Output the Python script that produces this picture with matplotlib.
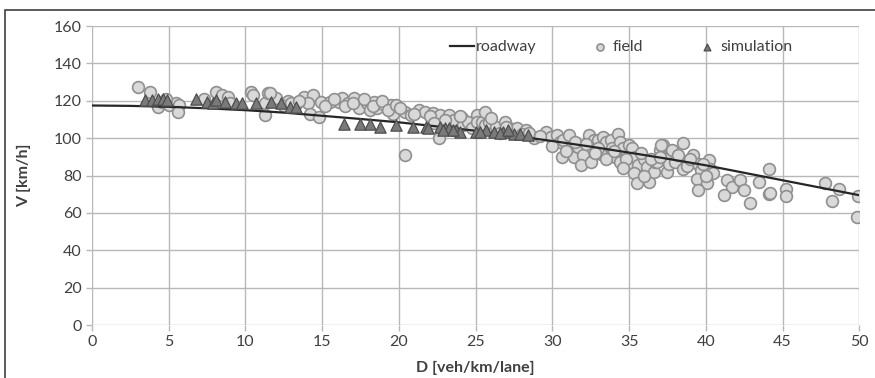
import matplotlib
matplotlib.use("Agg")
import matplotlib.pyplot as plt
from matplotlib.patches import Rectangle

plt.rcParams['font.family'] = ['Lato', 'DejaVu Sans']

# roadway model curve
road_D = [0, 2.5, 5, 7.5, 10, 12.5, 15, 17.5, 20, 22.5, 25, 27.5,
          30, 32.5, 35, 37.5, 40, 42.5, 45, 47.5, 50]
road_V = [117.5, 117.3, 116.8, 116.0, 115.0, 113.7, 112.0, 110.3, 108.5, 106.3, 104.0, 101.3,
          98.5, 95.5, 92.3, 89.0, 85.5, 81.5, 77.5, 73.5, 69.5]

# field measurements
field_D = [3.0, 3.8, 4.3, 4.6, 5.0, 5.5, 5.7, 5.6, 7.3, 8.1, 8.5, 8.9, 10.4, 10.5, 11.3, 11.3, 11.5, 12.0,
           11.6, 12.8, 13.3, 13.8, 14.4, 14.1, 14.2, 14.8, 14.9, 15.5, 16.1, 16.3, 16.7, 17.1, 17.4, 17.9,
           18.1, 18.4, 18.6, 19.0, 19.5, 19.6, 20.4, 20.8, 20.4, 21.3, 21.7, 22.2, 22.7, 22.6, 23.3, 23.6,
           24.1, 24.2, 24.5, 24.8, 25.1, 25.1, 25.4, 25.6, 25.6, 25.9, 26.3, 26.9, 27.2, 27.7, 28.3, 28.8,
           29.6, 29.9, 30.3, 30.5, 30.7, 30.6, 31.1, 31.2, 31.4, 31.7, 32.0, 31.9, 32.5, 32.4, 32.7, 33.0,
           33.3, 33.5, 33.8, 33.9, 34.1, 34.3, 34.4, 33.2, 33.5, 34.4, 34.6, 35.0, 35.2, 35.0, 35.4, 35.6,
           35.3, 35.5, 36.0, 36.2, 36.3, 36.6, 36.7, 37.0, 37.2, 37.4, 37.5, 37.6, 36.8, 37.1, 37.8, 38.5,
           38.0, 38.5, 38.9, 39.2, 39.5, 39.7, 40.2, 40.3, 39.4, 40.1, 39.5, 40.5, 41.4, 41.7, 42.2, 42.5,
           41.2, 42.9, 43.5, 44.1, 44.1, 44.2, 45.2, 45.2, 47.8, 48.2, 48.7, 49.9, 49.85, 27.0, 26.6, 28.0,
           15.2, 15.8, 16.5, 17.0, 17.7, 18.3, 18.9, 19.3, 19.8, 20.1, 21.0, 22.0, 22.3, 23.0, 24.0, 26.0,
           27.0, 28.5, 29.2, 30.0, 31.5, 32.2, 33.0, 34.0, 34.8, 35.8, 36.4, 37.0, 38.2, 38.8, 39.0, 39.8,
           40.0, 36.0, 34.6, 32.8, 30.9, 9.0, 4.8, 12.5, 13.0, 13.5]
field_V = [127.5, 124.8, 116.8, 119.5, 118.0, 118.6, 117.7, 114.1, 121.0, 124.8, 123.0, 122.0, 124.8, 123.0, 118.6, 112.4, 124.0, 121.3,
           124.0, 120.0, 118.5, 122.1, 123.0, 118.6, 113.2, 111.4, 119.5, 119.5, 119.5, 121.3, 118.6, 121.3, 115.9, 118.6,
           115.0, 119.5, 115.9, 118.5, 117.7, 113.2, 114.1, 112.4, 91.0, 115.0, 114.1, 113.5, 112.4, 99.9, 112.4, 109.7,
           110.6, 107.0, 108.8, 105.2, 112.4, 108.8, 108.8, 114.1, 107.0, 108.8, 106.1, 108.8, 105.2, 105.2, 104.3, 99.9,
           103.4, 100.8, 101.7, 98.1, 99.0, 90.0, 101.7, 94.5, 90.0, 95.4, 91.0, 85.6, 87.4, 101.7, 99.0, 99.0,
           100.8, 98.1, 99.0, 94.5, 90.0, 102.5, 98.1, 91.8, 89.1, 87.4, 94.5, 96.3, 94.5, 86.4, 90.0, 85.6,
           81.2, 75.8, 89.1, 84.7, 76.7, 82.1, 87.4, 93.6, 96.3, 89.1, 82.1, 86.4, 87.4, 96.3, 93.6, 97.7,
           87.4, 83.7, 88.3, 91.0, 86.4, 82.9, 88.3, 83.7, 78.4, 75.8, 72.2, 81.2, 77.6, 74.0, 77.6, 72.2,
           69.6, 65.1, 76.7, 83.7, 70.4, 70.8, 72.6, 69.0, 75.8, 66.3, 72.6, 69.0, 57.6, 104.0, 103.0, 102.0,
           117.0, 121.0, 117.0, 119.0, 121.0, 117.0, 120.0, 115.0, 118.0, 116.0, 113.0, 112.0, 108.0, 110.0, 112.0, 111.0,
           106.0, 103.0, 101.0, 96.0, 98.0, 97.0, 95.0, 93.0, 89.0, 92.0, 89.0, 90.0, 91.0, 85.0, 89.0, 86.0,
           80.0, 80.0, 84.0, 92.0, 93.0, 119.0, 121.0, 117.0, 119.0, 120.0]

# simulation results
sim_D = [3.45, 3.9, 4.3, 4.65, 4.9, 6.8, 7.5, 7.9, 8.1, 8.7, 9.4, 9.8, 10.7, 11.7, 12.3, 12.9, 13.3,
         16.4, 17.5, 18.1, 18.8, 19.8, 20.9, 21.8, 22.7, 23.0, 23.3, 23.7, 24.0, 25.0, 25.7, 26.2, 26.8,
         27.5, 27.9, 28.4, 21.9, 22.9, 23.5, 25.3, 26.6, 27.1]
sim_V = [120.4, 120.4, 120.8, 120.8, 120.4, 120.8, 119.5, 118.6, 120.4, 119.5, 118.6, 118.6, 118.6, 119.5, 118.6, 116.8, 116.8,
         107.8, 107.8, 107.8, 106.1, 107.0, 106.1, 106.1, 106.1, 105.2, 105.2, 104.3, 103.4, 103.4, 104.3, 103.4, 103.4,
         102.5, 102.5, 101.6, 105.4, 104.3, 104.3, 103.3, 102.7, 104.3]

fig = plt.figure(figsize=(8.75, 3.78), dpi=100)
ax = fig.add_axes([0.105, 0.14, 0.877, 0.791])

grid_c = '#b8b8b8'
ax.set_xlim(0, 50)
ax.set_ylim(0, 160)
ax.set_xticks(range(0, 51, 5))
ax.set_yticks(range(0, 161, 20))
ax.grid(True, color=grid_c, linewidth=1.0)
ax.set_axisbelow(True)
for s in ax.spines.values():
    s.set_visible(False)
ax.tick_params(colors=grid_c, labelcolor='#404040', labelsize=11.5, length=4, width=1)

ax.plot(road_D, road_V, color='#262626', linewidth=1.6, label='roadway', zorder=4)
ax.scatter(field_D, field_V, s=72, color='#d9d9d9', edgecolors='#8f8f8f', linewidths=1.2,
           label='field', zorder=3)
ax.scatter(sim_D, sim_V, s=66, marker='^', color='#7a7a7a', edgecolors='#4d4d4d', linewidths=0.9,
           label='simulation', zorder=5)

ax.set_xlabel('D [veh/km/lane]', fontsize=11.5, fontweight='bold', color='#404040', labelpad=8)
ax.set_ylabel('V [km/h]', fontsize=11.5, fontweight='bold', color='#404040', labelpad=16)

leg = ax.legend(loc='center', bbox_to_anchor=(0.69, 0.93), ncol=3, frameon=False,
                fontsize=11.5, handlelength=1.5, handletextpad=0.1, columnspacing=3.2, markerscale=0.6)
for t in leg.get_texts():
    t.set_color('#404040')

# outer frame of the original figure (partly cropped)
fig.add_artist(Rectangle((5 / 875, -0.1), 1.0, 1.1 - 10 / 378, transform=fig.transFigure,
                         fill=False, edgecolor='#404040', linewidth=1.2, clip_on=False))

fig.savefig('out.png', dpi=100)
